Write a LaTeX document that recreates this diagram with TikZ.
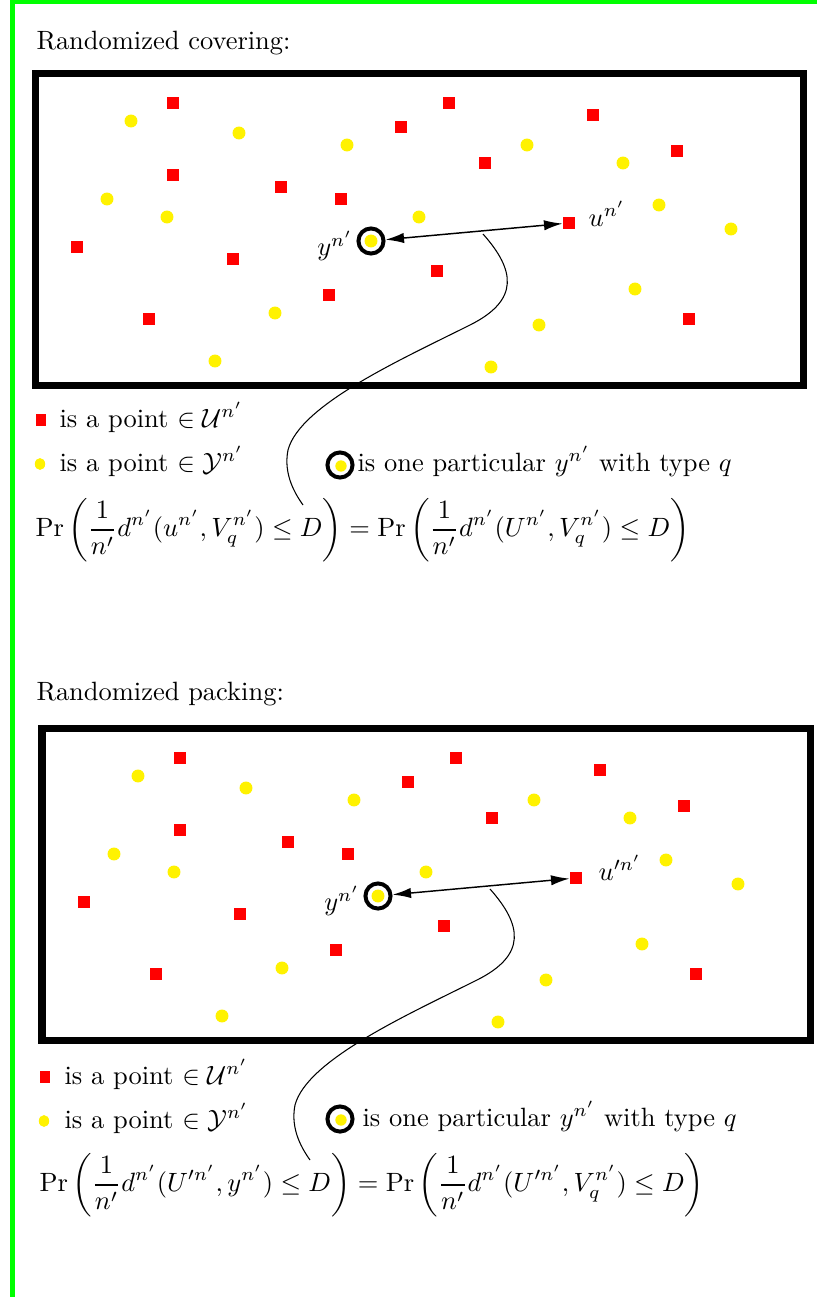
\documentclass[tikz,border=0pt]{standalone}
\usepackage{amsmath}
\usetikzlibrary{arrows.meta}
\tikzset{
  redsq/.style={fill=red, minimum size=4.9pt, inner sep=0pt, outer sep=0pt},
  yel/.style={circle, fill=yellow, minimum size=4.9pt, inner sep=0pt, outer sep=0pt},
  ringmark/.style={circle, draw=black, line width=1.5pt, minimum size=9.5pt, inner sep=0pt},
  legsq/.style={fill=red, minimum width=4pt, minimum height=4.3pt, inner sep=0pt},
  legyel/.style={ellipse, fill=yellow, minimum width=3.9pt, minimum height=4.5pt, inner sep=0pt},
  frame/.style={draw=black, line width=2.65pt},
  lab/.style={inner sep=0pt, anchor=base west},
  dist/.style={{Latex[length=7pt,width=3.9pt]}-{Latex[length=7pt,width=3.9pt]}, line width=0.55pt},
  link/.style={line width=0.4pt},
  greenline/.style={draw=green, line width=1.7pt}
}
\usetikzlibrary{shapes.geometric}
\newcommand\pointsfor[1]{%
  \foreach \a/\b [count=\i] in {173/103, 449/103, 401/127, 593/115, 173/175, 485/163, 677/151, 281/187, 341/199, 77/247, 233/259, 569/223, 437/271, 329/295, 149/319, 689/319}
    {\node[redsq] (#1r\i) at (\a,\b) {};}
  \foreach \a/\b [count=\i] in {131/121, 239/133, 347/145, 527/145, 623/163, 107/199, 167/217, 419/217, 659/205, 731/229, 371/241, 635/289, 275/313, 539/325, 215/361, 491/367}
    {\node[yel] (#1y\i) at (\a,\b) {};}
  \node[ringmark] (#1ring) at (371,241) {};
  \node (#1ylab) at (335,246) {$y^{n'}$};
  \draw[dist] (#1ring) -- (#1r12);
  \coordinate (#1cs) at (483,234);
  \coordinate (#1ce) at (303,505);
  \draw[link] (#1cs) .. controls (515,270) and (520,300) .. (470,325)
     .. controls (400,360) and (300,405) .. (288,450)
     .. controls (283,475) and (296,495) .. (#1ce);
}
\begin{document}
\begin{tikzpicture}[x=0.378pt,y=-0.378pt]
\useasboundingbox (0,0) rectangle (817,1297);
% green frame lines
\draw[greenline] (12.5,0) -- (12.5,1297);
\draw[greenline, line width=1.5pt] (10.5,2) -- (817,2);

% ---------- panel 1 ----------
\node[lab] (t1) at (36,50) {Randomized covering:};
\draw[frame] (35.5,73.5) rectangle (803.5,385.5);
\pointsfor{p}
\node (pulab) at (607,214) {$u^{n'}$};
\node[legsq] (pl1) at (41,420) {};
\node[lab] (pl1t) at (59,427) {is a point $\in\mathcal{U}^{n'}$};
\node[legyel] (pl2) at (40,464) {};
\node[lab] (pl2t) at (59,471) {is a point $\in\mathcal{Y}^{n'}$};
\node[ringmark] (pl3) at (340,465) {};
\node[yel, minimum size=4.3pt] (pl3y) at (341,466) {};
\node[lab] (pl3t) at (357,471) {is one particular $y^{n'}$ with type $q$};
\node[inner sep=0pt, anchor=west] (pf) at (35,530)
  {$\displaystyle \Pr\left(\frac{1}{n'}d^{n'}(u^{n'},V_q^{n'})\leq D\right)=\Pr\left(\frac{1}{n'}d^{n'}(U^{n'},V_q^{n'})\leq D\right)$};

% ---------- panel 2 ----------
\node[lab] (t2) at (36,700) {Randomized packing:};
\draw[frame] (42,728.5) rectangle (810,1040.5);
\begin{scope}[shift={(7,655)}]
\pointsfor{q}
\end{scope}
\node (qulab) at (620,868) {$u'^{n'}$};
\node[legsq] (ql1) at (45,1077) {};
\node[lab] (ql1t) at (64,1084) {is a point $\in\mathcal{U}^{n'}$};
\node[legyel] (ql2) at (44,1121) {};
\node[lab] (ql2t) at (64,1128) {is a point $\in\mathcal{Y}^{n'}$};
\node[ringmark] (ql3) at (340,1119) {};
\node[yel, minimum size=4.3pt] (ql3y) at (341,1120) {};
\node[lab] (ql3t) at (362,1126) {is one particular $y^{n'}$ with type $q$};
\node[inner sep=0pt, anchor=west] (qf) at (39,1185)
  {$\displaystyle \Pr\left(\frac{1}{n'}d^{n'}(U'^{n'},y^{n'})\leq D\right)=\Pr\left(\frac{1}{n'}d^{n'}(U'^{n'},V_q^{n'})\leq D\right)$};
\end{tikzpicture}
\end{document}
